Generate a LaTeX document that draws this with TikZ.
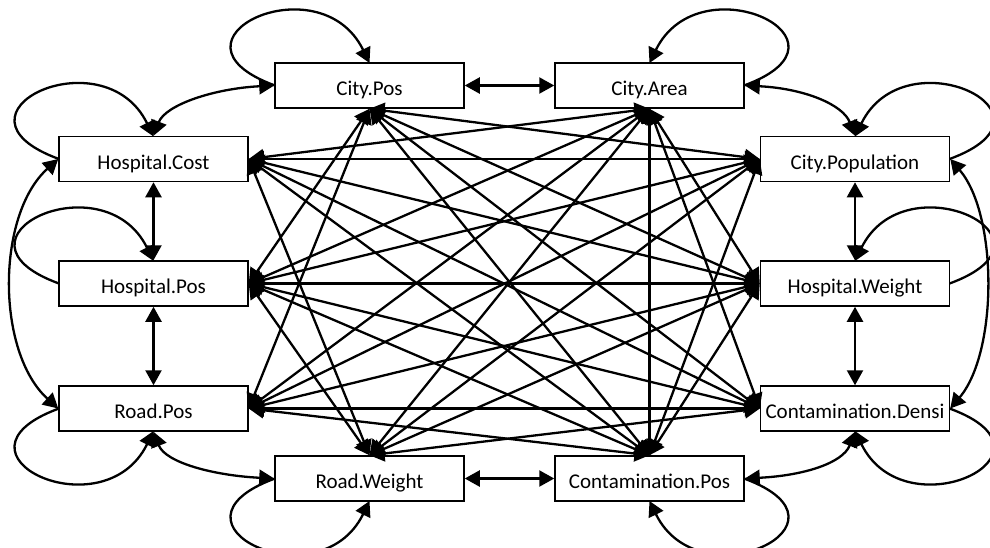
\documentclass[tikz,border=0pt]{standalone}
\usepackage{fontspec}
\setmainfont{Carlito}
\usetikzlibrary{arrows.meta, calc}

\tikzset{
  box/.style={draw, line width=1.5pt, minimum width=189pt, minimum height=45pt,
    inner sep=0pt, text height=20pt, text depth=0pt, font=\fontsize{21}{25}\selectfont},
  edge/.style={line width=2.3pt, >={Triangle[length=15pt,width=16pt]}},
}

\begin{document}
\begin{tikzpicture}[x=1pt, y=-1pt]
\useasboundingbox (0,0) rectangle (990,547);

% nodes
\node[box] (cp)   at (369.5,85.5)  {City.Pos};
\node[box] (ca)   at (649.5,85.5)  {City.Area};
\node[box] (hc)   at (153.5,159)   {Hospital.Cost};
\node[box] (pop)  at (855,159)     {City.Population};
\node[box] (hp)   at (153.5,283.5) {Hospital.Pos};
\node[box] (hw)   at (855,283.5)   {Hospital.Weight};
\node[box] (rp)   at (153.5,408.5) {Road.Pos};
\node[box] (cd)   at (855,408.5)   {Contamination.Densi};
\node[box] (rw)   at (369.5,478.5) {Road.Weight};
\node[box] (cpos) at (649.5,478.5) {Contamination.Pos};

% neighbours on the ring
\draw[edge,<->] (cp.east) -- (ca.west);
\draw[edge,<->] (rw.east) -- (cpos.west);
\draw[edge,<->] (hc.south) -- (hp.north);
\draw[edge,<->] (hp.south) -- (rp.north);
\draw[edge,<->] (pop.south) -- (hw.north);
\draw[edge,<->] (hw.south) -- (cd.north);
\draw[edge,<->] (hc.north) .. controls ($(hc.north)+(12,-31)$) and ($(cp.west)+(-60,3)$) .. (cp.west);
\draw[edge,<->] (ca.east) .. controls ($(ca.east)+(60,3)$) and ($(pop.north)+(-12,-31)$) .. (pop.north);
\draw[edge,<->] (rp.south) .. controls ($(rp.south)+(12,31)$) and ($(rw.west)+(-60,-3)$) .. (rw.west);
\draw[edge,<->] (cd.south) .. controls ($(cd.south)+(-12,31)$) and ($(cpos.east)+(60,-3)$) .. (cpos.east);

% outer arcs
\draw[edge,<->] (hc.west) .. controls (-4,215) and (-4,352) .. (rp.west);
\draw[edge,<->] (pop.east) .. controls (998,215) and (998,352) .. (cd.east);

% straight links
\foreach \a/\b in {hc.east/pop.west, hc.east/hw.west, hc.east/cd.west,
    hp.east/pop.west, hp.east/hw.west, hp.east/cd.west,
    rp.east/pop.west, rp.east/hw.west, rp.east/cd.west,
    cp.south/hp.east, cp.south/rp.east, cp.south/pop.west, cp.south/hw.west,
    cp.south/cd.west, cp.south/cpos.north,
    ca.south/hc.east, ca.south/hp.east, ca.south/rp.east, ca.south/hw.west,
    ca.south/cd.west, ca.south/rw.north, ca.south/cpos.north,
    rw.north/hc.east, rw.north/hp.east, rw.north/pop.west, rw.north/hw.west,
    rw.north/cd.west,
    cpos.north/hc.east, cpos.north/hp.east, cpos.north/rp.east,
    cpos.north/pop.west, cpos.north/hw.west} {
  \draw[edge,<->] (\a) -- (\b);
}

% self loops
\foreach \n/\sx/\sy in {cp/1/1, ca/-1/1, hc/1/1, hp/1/1, rp/1/-1,
    rw/1/-1, cpos/-1/-1, cd/-1/-1, hw/-1/1, pop/-1/1} {
  \draw[edge,->] ($(\n)+(\sx*-94.5,0)$)
    .. controls ($(\n)+(\sx*-218,\sy*-45)$) and ($(\n)+(\sx*-50,\sy*-125)$)
    .. ($(\n)+(0,\sy*-22.5)$);
}
\end{tikzpicture}
\end{document}
